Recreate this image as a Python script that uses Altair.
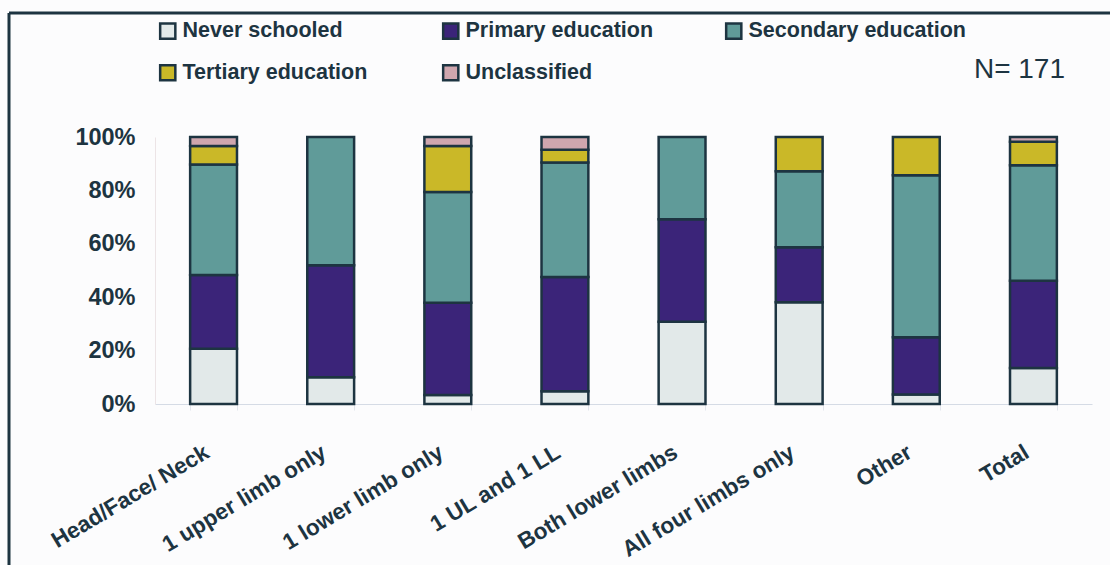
import altair as alt
import pandas as pd

categories = ["Head/Face/ Neck", "1 upper limb only", "1 lower limb only", "1 UL and 1 LL",
              "Both lower limbs", "All four limbs only", "Other", "Total"]
series = ["Never schooled", "Primary education", "Secondary education",
          "Tertiary education", "Unclassified"]
never_schooled = [20.7, 10.0, 3.4, 4.8, 30.8, 38.1, 3.6, 13.5]
primary = [27.6, 42.0, 34.5, 42.9, 38.5, 20.6, 21.4, 32.7]
secondary = [41.4, 48.0, 41.4, 42.9, 30.8, 28.5, 60.7, 43.3]
tertiary = [6.9, 0.0, 17.2, 4.8, 0.0, 12.8, 14.3, 8.8]
unclassified = [3.4, 0.0, 3.4, 4.8, 0.0, 0.0, 0.0, 1.8]
colors = ["#e2e9e9", "#3b2479", "#609b99", "#cab828", "#cfa6ae"]
note = ["N= 171"]

rows = []
for si, (name, vals) in enumerate(zip(series, [never_schooled, primary, secondary, tertiary, unclassified])):
    for c, v in zip(categories, vals):
        if v > 0:
            rows.append({"cat": c, "series": name, "order": si, "value": v})
df = pd.DataFrame(rows)

FONT = "Liberation Sans, Arial, sans-serif"
DARK = "#1d3441"

bars = alt.Chart(df).mark_bar(stroke=DARK, strokeWidth=2.5).encode(
    x=alt.X("cat:N", sort=categories, title=None,
            scale=alt.Scale(paddingInner=0.6, paddingOuter=0.3),
            axis=alt.Axis(labelAngle=-31, labelAlign="right", labelBaseline="middle",
                          labelPadding=40, labelOffset=-7, labelFontSize=22.5, labelFont=FONT,
                          labelFontWeight="bold",
                          labelColor=DARK, labelLimit=400, domainColor="#d5dbe5", tickColor="#e3e6ec",
                          tickBand="extent", tickSize=6)),
    y=alt.Y("value:Q", stack="normalize", title=None,
            scale=alt.Scale(domain=[0, 1]),
            axis=alt.Axis(values=[0, 0.2, 0.4, 0.6, 0.8, 1.0], format=".0%", ticks=False,
                          grid=False, domainColor="#ece4e6", labelPadding=20,
                          labelFontSize=23.5, labelFont=FONT, labelFontWeight="bold", labelColor=DARK)),
    color=alt.Color("series:N", scale=alt.Scale(domain=series, range=colors),
                    legend=alt.Legend(title=None, orient="none", legendX=2, legendY=-117,
                                      columns=3, direction="horizontal", gridAlign="all",
                                      columnPadding=38, rowPadding=16, padding=0,
                                      symbolType="square", symbolSize=230,
                                      symbolStrokeColor=DARK, symbolStrokeWidth=2.5,
                                      labelFontSize=21.5, labelFont=FONT, labelFontWeight="bold",
                                      labelColor=DARK, labelOffset=4, labelLimit=400)),
    order=alt.Order("order:Q"),
)

n_text = alt.Chart(alt.Data(values=[{"t": note[0]}])).mark_text(
    align="right", baseline="middle", fontSize=28, font=FONT, color=DARK).encode(
    text="t:N", x=alt.value(910), y=alt.value(-67))

frame_v = alt.Chart(alt.Data(values=[{}])).mark_rule(color=DARK, strokeWidth=3).encode(
    x=alt.value(-146), y=alt.value(-124), y2=alt.value(440))
frame_h = alt.Chart(alt.Data(values=[{}])).mark_rule(color=DARK, strokeWidth=3).encode(
    x=alt.value(-146), x2=alt.value(970), y=alt.value(-124))

chart = alt.layer(frame_v, frame_h, bars, n_text).properties(
    width=937, height=267,
    autosize=alt.AutoSizeParams(type="none"),
    padding={"left": 155, "top": 137, "right": 18, "bottom": 161},
    background="#fcfcfd",
).configure_view(stroke=None)

chart.save("out.html", embed_options={"renderer": "svg", "actions": False})
